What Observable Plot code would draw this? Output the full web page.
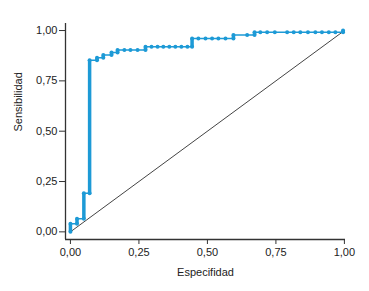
<!DOCTYPE html>
<html>
<head>
<meta charset="utf-8">
<script src="https://cdn.jsdelivr.net/npm/d3@7"></script>
<script src="https://cdn.jsdelivr.net/npm/@observablehq/plot@0.6"></script>
<style>
  html, body { margin: 0; padding: 0; background: #fff; }
  #chart { width: 369px; height: 291px; }
</style>
</head>
<body>
<div id="chart"></div>
<script>
// ROC curve vertices (1 - specificity, sensitivity)
const fpr = [0, 0, 0.024, 0.024, 0.049, 0.049, 0.070, 0.070, 0.097, 0.097, 0.120, 0.120, 0.150, 0.150, 0.172, 0.172,
  0.197, 0.219, 0.245, 0.274, 0.274,
  0.296, 0.318, 0.339, 0.361, 0.383, 0.405, 0.427, 0.444, 0.444,
  0.467, 0.493, 0.517, 0.540, 0.566, 0.595, 0.595,
  0.645, 0.672, 0.672,
  0.693, 0.718, 0.746, 0.791, 0.815, 0.839, 0.867, 0.894, 0.918, 0.943, 0.967, 0.995, 0.995];
const tpr = [0, 0.040, 0.040, 0.065, 0.065, 0.192, 0.192, 0.853, 0.853, 0.865, 0.865, 0.878, 0.878, 0.891, 0.891, 0.903,
  0.903, 0.903, 0.903, 0.903, 0.919,
  0.919, 0.919, 0.919, 0.919, 0.919, 0.919, 0.919, 0.919, 0.961,
  0.961, 0.961, 0.961, 0.961, 0.961, 0.961, 0.978,
  0.978, 0.978, 0.991,
  0.991, 0.991, 0.991, 0.991, 0.991, 0.991, 0.991, 0.991, 0.991, 0.991, 0.991, 0.991, 1.0];
const refX = [0, 1];
const refY = [0, 1];
const ticks = [0, 0.25, 0.5, 0.75, 1];
const xLabel = "Especifidad";
const yLabel = "Sensibilidad";

const pts = fpr.map((x, i) => ({x, y: tpr[i]}));
const ref = refX.map((x, i) => ({x, y: refY[i]}));
const verticals = [];
for (let i = 1; i < pts.length; i++) {
  if (pts[i].x === pts[i - 1].x) verticals.push({x1: pts[i - 1].x, y1: pts[i - 1].y, x2: pts[i].x, y2: pts[i].y});
}
const fmt = d => d3.format(".2f")(d).replace(".", ",");
const xmin = -0.018, xmax = 1.004, ymin = -0.038, ymax = 1.035;
const blue = "#1d9ad6";

const chart = Plot.plot({
  width: 369,
  height: 291,
  marginLeft: 65,
  marginRight: 24,
  marginTop: 23,
  marginBottom: 52,
  style: {fontFamily: "'Liberation Sans', Arial, sans-serif", fontSize: "11px", color: "#222", background: "#fff"},
  x: {domain: [xmin, xmax]},
  y: {domain: [ymin, ymax]},
  marks: [
    Plot.ruleX([xmin], {stroke: "#333", strokeWidth: 1.3}),
    Plot.ruleY([ymin], {stroke: "#333", strokeWidth: 1.3}),
    Plot.axisX({ticks, tickFormat: fmt, tickSize: 5, tickPadding: 4, stroke: "#333", label: null}),
    Plot.axisY({ticks, tickFormat: fmt, tickSize: 6, tickPadding: 2, stroke: "#333", label: null}),
    Plot.text([xLabel], {frameAnchor: "bottom", dy: 36, fill: "#222", fontSize: 11}),
    Plot.text([yLabel], {frameAnchor: "left", rotate: -90, dx: -47, fill: "#222", fontSize: 11}),
    Plot.line(ref, {x: "x", y: "y", stroke: "#444", strokeWidth: 1}),
    Plot.line(pts, {x: "x", y: "y", stroke: blue, strokeWidth: 1.5}),
    Plot.link(verticals, {x1: "x1", y1: "y1", x2: "x2", y2: "y2", stroke: blue, strokeWidth: 3.5}),
    Plot.dot(pts, {x: "x", y: "y", r: 2, fill: blue, stroke: "none"})
  ]
});
document.getElementById("chart").appendChild(chart);
</script>
</body>
</html>
